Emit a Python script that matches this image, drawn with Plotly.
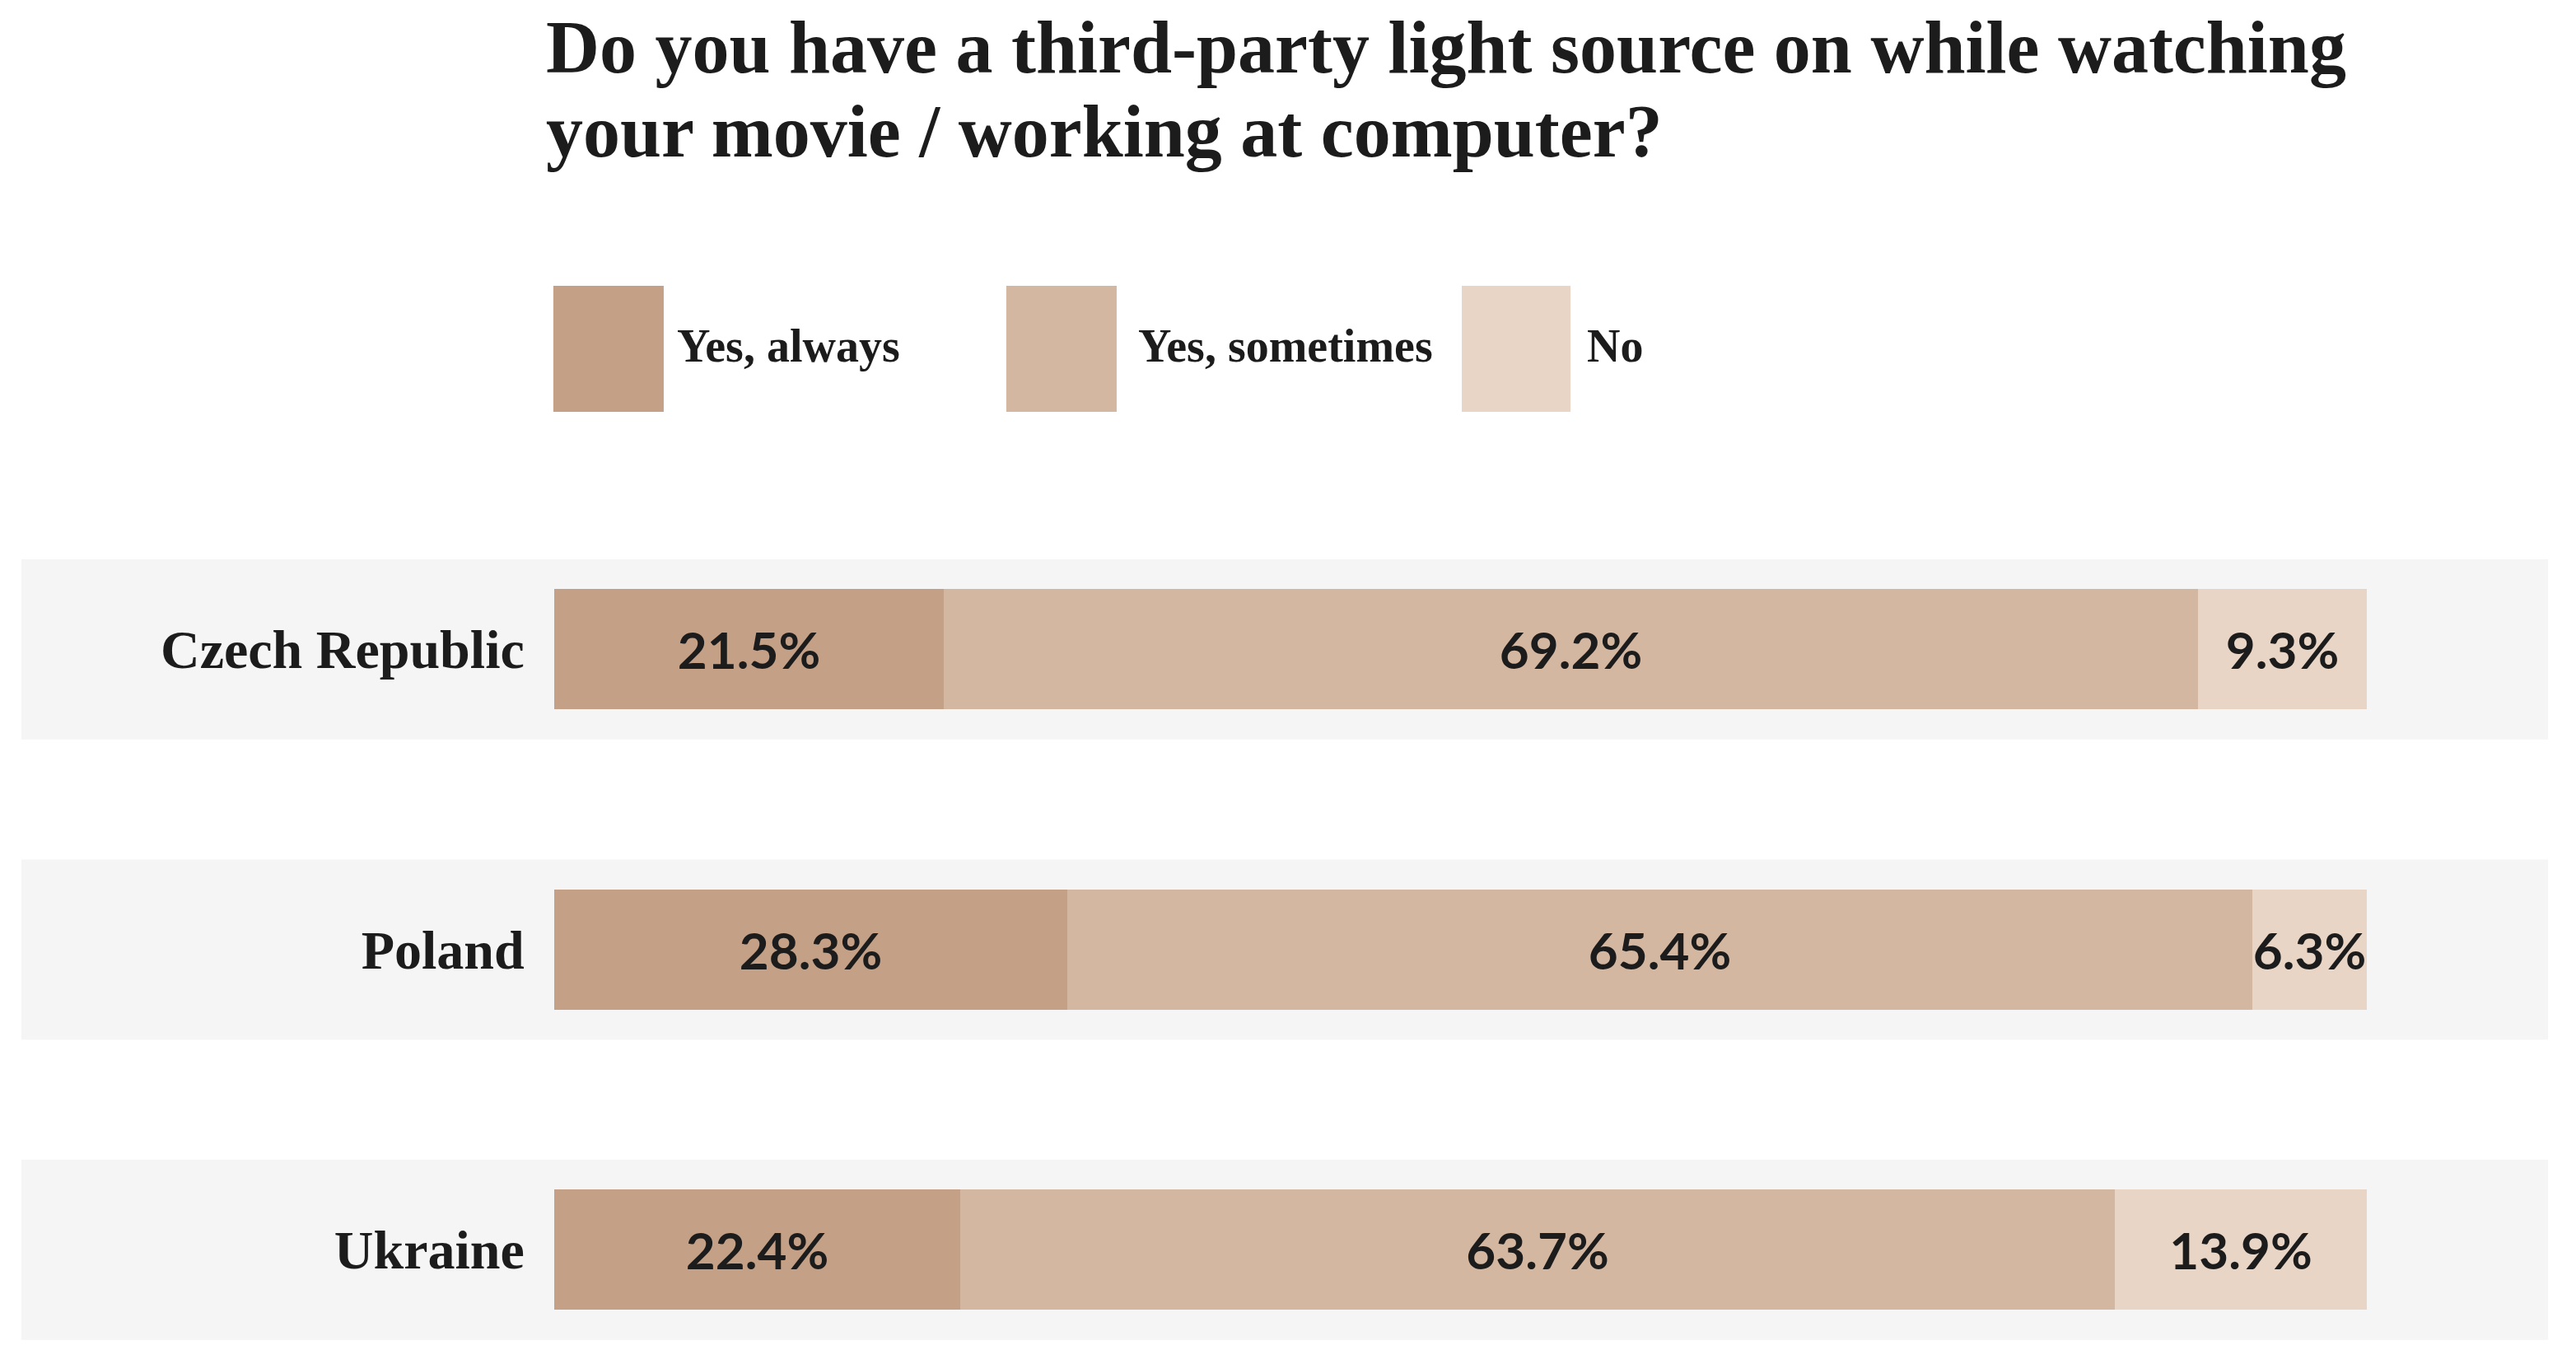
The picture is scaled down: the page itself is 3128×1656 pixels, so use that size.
import plotly.graph_objects as go

countries = ["Czech Republic", "Poland", "Ukraine"]
series_names = ["Yes, always", "Yes, sometimes", "No"]
yes_always = [21.5, 28.3, 22.4]
yes_sometimes = [69.2, 65.4, 63.7]
no_values = [9.3, 6.3, 13.9]
colors = ["#c3a086", "#d4b7a1", "#e8d5c6"]

title_lines = ["Do you have a third-party light source on while watching",
               "your movie / working at computer?"]

W, H = 3128, 1656
serif = "Liberation Serif"
label_font = "Lato"
dark = "#1c1c1c"

fig = go.Figure()
for name, vals, col in zip(series_names, [yes_always, yes_sometimes, no_values], colors):
    fig.add_trace(go.Bar(
        y=countries, x=vals, name=name, orientation="h",
        marker=dict(color=col, line=dict(width=0)),
        width=0.4,
        text=[f"{v:.1f}%" for v in vals],
        textposition="inside", insidetextanchor="middle", textangle=0,
        constraintext="none", cliponaxis=False,
        textfont=dict(family=label_font, size=62, color=dark, weight="bold"),
        showlegend=False,
    ))

shapes = []
# row bands
for i in range(len(countries)):
    shapes.append(dict(type="rect", xref="paper", yref="y", x0=-0.294, x1=1.1,
                       y0=i - 0.3, y1=i + 0.3, fillcolor="#f5f5f6",
                       line=dict(width=0), layer="below"))

# legend swatches + labels
leg_x = [(-0.0005, 0.0604, 0.0668), (0.2494, 0.3103, 0.3212), (0.5007, 0.5607, 0.5688)]
annotations = []
for (x0, x1, tx), name, col in zip(leg_x, series_names, colors):
    shapes.append(dict(type="rect", xref="paper", yref="paper", x0=x0, x1=x1,
                       y0=1.1031, y1=1.2519, fillcolor=col, line=dict(width=0)))
    annotations.append(dict(xref="paper", yref="paper", x=tx, y=1.181, text=name,
                            showarrow=False, xanchor="left", yanchor="middle",
                            font=dict(family=serif, size=56, color=dark, weight="bold")))

for line, ty in zip(title_lines, [1.534, 1.434]):
    annotations.append(dict(xref="paper", yref="paper", x=-0.0055, y=ty, text=line,
                            showarrow=False, xanchor="left", yanchor="middle", align="left",
                            font=dict(family=serif, size=90, color=dark, weight="bold")))

fig.update_layout(
    width=W, height=H,
    barmode="stack",
    bargap=0,
    paper_bgcolor="white", plot_bgcolor="rgba(0,0,0,0)",
    margin=dict(l=665, r=262, t=598, b=30),
    xaxis=dict(range=[0, 100], visible=False, fixedrange=True),
    yaxis=dict(range=[2.32, -0.5], categoryorder="array", categoryarray=countries,
               showgrid=False, zeroline=False, showline=False,
               ticks="outside", ticklen=22, tickcolor="rgba(0,0,0,0)",
               tickfont=dict(family=serif, size=66, color=dark, weight="bold")),
    uniformtext=dict(minsize=62, mode="show"),
    shapes=shapes,
    annotations=annotations,
)

fig.write_html("out.html")
